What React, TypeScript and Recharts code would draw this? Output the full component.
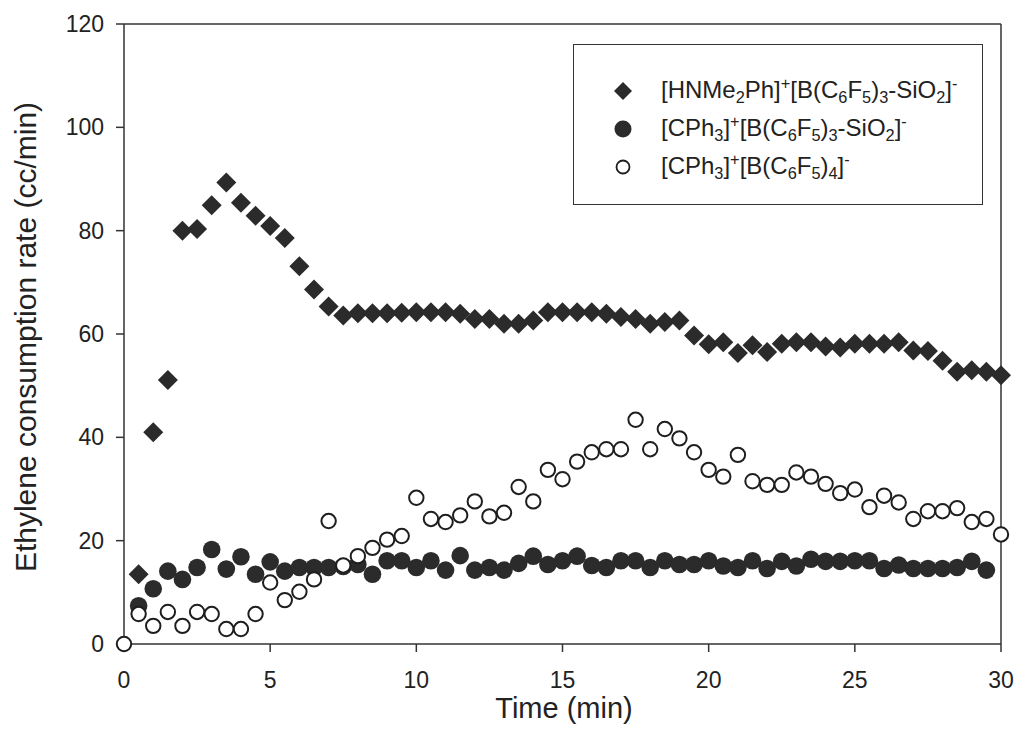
import React from "react";
import { ScatterChart, Scatter, XAxis, YAxis, ReferenceLine, Legend } from "recharts";

const FONT = '"Liberation Sans", Arial, sans-serif';
const INK = "#2b2b2b";

// time (min) for each series
const anilTimes = [0.5, 1, 1.5, 2, 2.5, 3, 3.5, 4, 4.5, 5, 5.5, 6, 6.5, 7, 7.5, 8, 8.5, 9, 9.5, 10, 10.5, 11, 11.5, 12, 12.5, 13, 13.5, 14, 14.5, 15, 15.5, 16, 16.5, 17, 17.5, 18, 18.5, 19, 19.5, 20, 20.5, 21, 21.5, 22, 22.5, 23, 23.5, 24, 24.5, 25, 25.5, 26, 26.5, 27, 27.5, 28, 28.5, 29, 29.5, 30];
const anilRates = [13.5, 41.0, 51.1, 80.0, 80.3, 84.9, 89.3, 85.4, 82.9, 80.9, 78.6, 73.1, 68.6, 65.3, 63.6, 64.0, 64.0, 64.0, 64.1, 64.2, 64.2, 64.2, 63.9, 62.9, 62.9, 62.0, 62.0, 62.6, 64.2, 64.2, 64.2, 64.2, 63.9, 63.3, 62.9, 62.0, 62.3, 62.6, 59.7, 58.0, 58.4, 56.3, 57.8, 56.5, 58.1, 58.4, 58.4, 57.6, 57.4, 58.1, 58.1, 58.1, 58.4, 56.8, 56.7, 54.8, 52.7, 53.0, 52.7, 52.0];

const tritylSilicaTimes = [0.5, 1, 1.5, 2, 2.5, 3, 3.5, 4, 4.5, 5, 5.5, 6, 6.5, 7, 7.5, 8, 8.5, 9, 9.5, 10, 10.5, 11, 11.5, 12, 12.5, 13, 13.5, 14, 14.5, 15, 15.5, 16, 16.5, 17, 17.5, 18, 18.5, 19, 19.5, 20, 20.5, 21, 21.5, 22, 22.5, 23, 23.5, 24, 24.5, 25, 25.5, 26, 26.5, 27, 27.5, 28, 28.5, 29, 29.5];
const tritylSilicaRates = [7.4, 10.7, 14.1, 12.5, 14.8, 18.3, 14.5, 16.9, 13.5, 15.9, 14.1, 14.8, 14.8, 14.8, 15.0, 15.4, 13.5, 16.1, 16.1, 14.8, 16.1, 14.3, 17.1, 14.3, 14.8, 14.3, 15.6, 17.0, 15.4, 16.1, 17.0, 15.2, 14.8, 16.1, 16.1, 14.8, 16.1, 15.4, 15.4, 16.1, 15.1, 14.8, 16.1, 14.6, 16.0, 15.1, 16.4, 16.0, 16.0, 16.1, 16.1, 14.6, 15.3, 14.6, 14.6, 14.6, 14.8, 16.0, 14.3];

const tritylTimes = [0, 0.5, 1, 1.5, 2, 2.5, 3, 3.5, 4, 4.5, 5, 5.5, 6, 6.5, 7, 7.5, 8, 8.5, 9, 9.5, 10, 10.5, 11, 11.5, 12, 12.5, 13, 13.5, 14, 14.5, 15, 15.5, 16, 16.5, 17, 17.5, 18, 18.5, 19, 19.5, 20, 20.5, 21, 21.5, 22, 22.5, 23, 23.5, 24, 24.5, 25, 25.5, 26, 26.5, 27, 27.5, 28, 28.5, 29, 29.5, 30];
const tritylRates = [0, 5.8, 3.5, 6.2, 3.5, 6.2, 5.8, 2.9, 2.9, 5.8, 11.9, 8.5, 10.1, 12.5, 23.8, 15.2, 17.0, 18.6, 20.2, 20.9, 28.3, 24.2, 23.6, 24.9, 27.6, 24.7, 25.4, 30.4, 27.6, 33.7, 31.9, 35.3, 37.1, 37.7, 37.7, 43.4, 37.7, 41.6, 39.8, 37.1, 33.7, 32.4, 36.6, 31.5, 30.8, 30.8, 33.2, 32.4, 31.0, 29.2, 29.9, 26.5, 28.7, 27.4, 24.2, 25.7, 25.7, 26.3, 23.6, 24.2, 21.2];

const xTicks = [0, 5, 10, 15, 20, 25, 30];
const yTicks = [0, 20, 40, 60, 80, 100, 120];

const zip = (xs: number[], ys: number[]) => xs.map((x, i) => ({ x, y: ys[i] }));

const anilData = zip(anilTimes, anilRates);
const tritylSilicaData = zip(tritylSilicaTimes, tritylSilicaRates);
const tritylData = zip(tritylTimes, tritylRates);

const Diamond = (props: any) => {
  const { cx, cy } = props;
  const r = 10;
  return <polygon points={`${cx},${cy - r} ${cx + r},${cy} ${cx},${cy + r} ${cx - r},${cy}`} fill={INK} />;
};
const Dot = (props: any) => <circle cx={props.cx} cy={props.cy} r={8.8} fill={INK} />;
const Ring = (props: any) => <circle cx={props.cx} cy={props.cy} r={7.2} fill="#fff" stroke="#1e1e1e" strokeWidth={2} />;

const sub = { fontSize: "0.68em", verticalAlign: "-0.3em", lineHeight: 0 } as React.CSSProperties;
const sup = { fontSize: "0.68em", verticalAlign: "0.55em", lineHeight: 0 } as React.CSSProperties;

const legendRows = [
  {
    marker: (
      <svg width={22} height={22}><polygon points="11,2 20,11 11,20 2,11" fill={INK} /></svg>
    ),
    label: (
      <span>[HNMe<span style={sub}>2</span>Ph]<span style={sup}>+</span>[B(C<span style={sub}>6</span>F<span style={sub}>5</span>)<span style={sub}>3</span>-SiO<span style={sub}>2</span>]<span style={sup}>-</span></span>
    ),
  },
  {
    marker: (
      <svg width={22} height={22}><circle cx={11} cy={11} r={8.5} fill={INK} /></svg>
    ),
    label: (
      <span>[CPh<span style={sub}>3</span>]<span style={sup}>+</span>[B(C<span style={sub}>6</span>F<span style={sub}>5</span>)<span style={sub}>3</span>-SiO<span style={sub}>2</span>]<span style={sup}>-</span></span>
    ),
  },
  {
    marker: (
      <svg width={22} height={22}><circle cx={11} cy={11} r={6.5} fill="#fff" stroke="#1e1e1e" strokeWidth={1.8} /></svg>
    ),
    label: (
      <span>[CPh<span style={sub}>3</span>]<span style={sup}>+</span>[B(C<span style={sub}>6</span>F<span style={sub}>5</span>)<span style={sub}>4</span>]<span style={sup}>-</span></span>
    ),
  },
];

const LegendBox = () => (
  <div
    style={{
      width: 410,
      height: 161,
      boxSizing: "border-box",
      border: "1.5px solid #333",
      background: "#fff",
      paddingTop: 27,
      fontFamily: FONT,
      fontSize: 24,
      color: "#222",
    }}
  >
    {legendRows.map((row, i) => (
      <div key={i} style={{ height: 38, display: "flex", alignItems: "center", position: "relative" }}>
        <div style={{ position: "absolute", left: 38, top: 8 }}>{row.marker}</div>
        <div style={{ position: "absolute", left: 87, top: 4, whiteSpace: "nowrap" }}>{row.label}</div>
      </div>
    ))}
  </div>
);

const XTitle = () => (
  <text x={564} y={718} textAnchor="middle" fontSize={29} fontFamily={FONT} fill="#222">
    Time (min)
  </text>
);

const YTitle = () => (
  <text transform="translate(36, 337) rotate(-90)" textAnchor="middle" fontSize={30} fontFamily={FONT} fill="#222">
    Ethylene consumption rate (cc/min)
  </text>
);

export default function App() {
  const tickStyle = { fontSize: 23, fill: "#222", fontFamily: FONT };
  return (
    <div style={{ position: "absolute", left: 0, top: 0, background: "#fff" }}>
      <ScatterChart width={1017} height={746} margin={{ top: 24, right: 16, bottom: 0, left: 0 }}>
        <XAxis
          type="number"
          dataKey="x"
          domain={[0, 30]}
          ticks={xTicks}
          height={102}
          tickSize={8}
          tickMargin={20}
          tick={tickStyle}
          stroke="#333"
          strokeWidth={1.5}
          label={<XTitle />}
        />
        <YAxis
          type="number"
          dataKey="y"
          domain={[0, 120]}
          ticks={yTicks}
          width={124}
          tickSize={8}
          tickMargin={12}
          tick={tickStyle}
          stroke="#333"
          strokeWidth={1.5}
          label={<YTitle />}
        />
        <ReferenceLine y={120} stroke="#333" strokeWidth={1.5} />
        <ReferenceLine x={30} stroke="#333" strokeWidth={1.5} />
        <Legend
          layout="vertical"
          align="center"
          verticalAlign="middle"
          wrapperStyle={{ left: 573, top: 44, width: 410 }}
          content={() => <LegendBox />}
        />
        <Scatter name="anilinium" data={anilData} shape={<Diamond />} isAnimationActive={false} />
        <Scatter name="trityl silica" data={tritylSilicaData} shape={<Dot />} isAnimationActive={false} />
        <Scatter name="trityl" data={tritylData} shape={<Ring />} isAnimationActive={false} />
      </ScatterChart>
    </div>
  );
}
